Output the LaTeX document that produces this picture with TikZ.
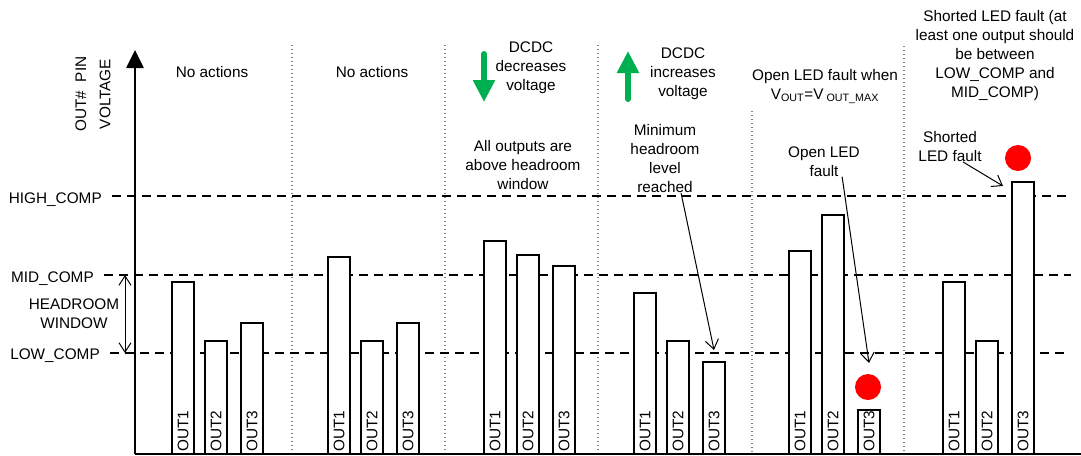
\documentclass[tikz,border=0pt]{standalone}
\usepackage{fontspec}
\setmainfont{Liberation Sans}
\usetikzlibrary{arrows.meta}
\definecolor{ledgreen}{RGB}{0,176,80}

\begin{document}
\begin{tikzpicture}[x=0.75pt,y=-0.75pt,
    txt/.style={font=\fontsize{11.5}{14.25}\selectfont,align=center,inner sep=0pt},
    lvl/.style={txt,anchor=base east,inner xsep=7.5pt},
    dashline/.style={line width=0.9pt,dash pattern=on 6.75pt off 4.5pt},
    sepline/.style={gray,line width=0.8pt,dash pattern=on 0.75pt off 2.25pt},
    bar/.style={fill=white,draw=black,line width=0.9pt},
    outlbl/.style={txt,rotate=90,anchor=west},
    ptr/.style={line width=0.75pt,-{Straight Barb[length=7pt,width=10pt]}},
    greenarr/.style={ledgreen,line width=4.5pt,line cap=round,-{Triangle[width=15.75pt,length=16.5pt]}}]
\useasboundingbox (0,0) rectangle (1081,455);
            % separators
            \foreach \sx/\sy in {292/45,445/45,598/45,752/111,904/46}
                \draw[sepline] (\sx,\sy) -- (\sx,454);
            % levels
            \node[lvl] (high) at (112,203) {HIGH\_COMP};
            \node[lvl] (mid) at (104,282) {MID\_COMP};
            \node[lvl] (low) at (110,359) {LOW\_COMP};
            \coordinate (highend) at (1067,196);
            \coordinate (midend) at (1071,275);
            \coordinate (lowend) at (1064,353);
            \draw[dashline] (high.east |- highend) -- (highend);
            \draw[dashline] (mid.east |- midend) -- (midend);
            \draw[dashline] (low.east |- lowend) -- (lowend);
            \node[txt] (window) at (74,314) {HEADROOM\\WINDOW};
            \coordinate (hrtop) at (125,275);
            \coordinate (hrbot) at (125,353);
            \draw[line width=0.75pt,{Straight Barb[length=7pt,width=9pt]}-{Straight Barb[length=7pt,width=9pt]}] (hrtop) -- (hrbot);
            % axis
            \coordinate (origin) at (135,454);
            \coordinate (top) at (135,50);
            \coordinate (xend) at (1081,454);
            \draw[line width=0.9pt] (origin) -- (xend);
            \draw[line width=2pt,-{Triangle[width=12.75pt,length=13.5pt]}] (origin) -- (top);
            \node[txt,rotate=90] (ylabel) at (93,94) {OUT\#\ \ PIN\\[4pt]VOLTAGE};
            % bars
            \foreach \gx/\ha/\hb/\hc in {172/282/341/323,328/257/341/323,484/241/255/266,634/293/341/362,789/251/215/410,943/282/341/182}
                \foreach \dx/\h/\k in {0/\ha/1,33/\hb/2,69/\hc/3} {
                    \filldraw[bar] (\gx+\dx,454) rectangle (\gx+\dx+22,\h);
                    \node[outlbl] at (\gx+\dx+11,452) {OUT\k};
                }
            % texts
            \node[txt] (noact1) at (212,72) {No actions};
            \node[txt] (noact2) at (372,72) {No actions};
            \node[txt] (dec) at (531,68) {DCDC\\decreases\\voltage};
            \node[txt] (above) at (523,165.5) {All outputs are\\above headroom\\window};
            \node[txt] (inc) at (683,74) {DCDC\\increases\\voltage};
            \node[txt] (minlvl) at (665,158.5) {Minimum\\headroom\\level\\reached};
            \node[txt] (openwhen) at (825,86.5) {Open LED fault when\\V\textsubscript{OUT}=V\textsubscript{ OUT\_MAX}};
            \node[txt] (openled) at (824,161.5) {Open LED\\fault};
            \node[txt] (shortwhen) at (995,56) {Shorted LED fault (at\\least one output should\\be between\\LOW\_COMP and\\MID\_COMP)};
            \node[txt] (shortled) at (950,146.5) {Shorted\\LED fault};
            % green arrows
            \coordinate (dectop) at (484,54);
            \coordinate (decbot) at (484,102);
            \coordinate (incbot) at (628,99);
            \coordinate (inctop) at (628,51);
            \draw[greenarr] (dectop) -- (decbot);
            \draw[greenarr] (incbot) -- (inctop);
            % pointers
            \coordinate (minend) at (714,350);
            \coordinate (openend) at (869,363);
            \coordinate (shortend) at (1003,186);
            \draw[ptr] (minlvl.-65) -- (minend);
            \draw[ptr] (openled.-40) -- (openend);
            \draw[ptr] (shortled.-50) -- (shortend);
            % faults
            \fill[red] (868,387) circle (9.75pt);
            \fill[red] (1018,158) circle (9.75pt);
        \end{tikzpicture}
\end{document}
